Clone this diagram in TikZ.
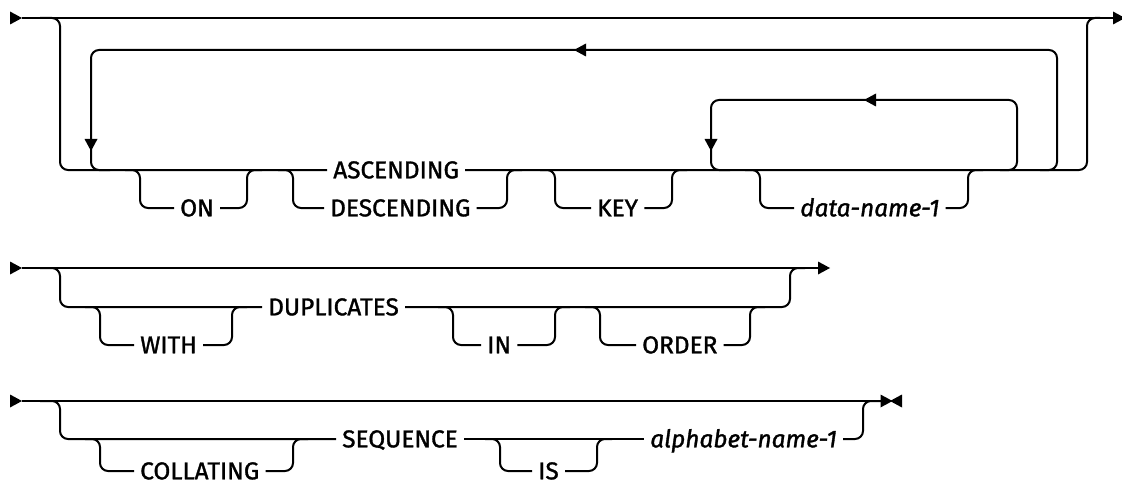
\documentclass[tikz,border=0pt]{standalone}
\usepackage{fontspec}
\setmainfont{Fira Sans}[FakeBold=1.3]
\usetikzlibrary{positioning}

\begin{document}
\begin{tikzpicture}[x=0.75pt,y=-0.75pt,
  rr/.style={line width=1.5pt,rounded corners=6pt},
  kw/.style={anchor=west,inner xsep=4.5pt,inner ysep=0pt,text height=12.5pt,text depth=0pt,font=\fontsize{18.3}{21}\selectfont},
  var/.style={kw,font=\fontsize{18.3}{21}\selectfont\itshape},
  rarr/.pic={\fill (6,0)--(-6,-6.5)--(-6,6.5)--cycle;},
  larr/.pic={\fill (-6,0)--(6,-6.5)--(6,6.5)--cycle;},
  darr/.pic={\fill (0,6)--(-6.5,-6)--(6.5,-6)--cycle;}]
  \useasboundingbox (0,0) rectangle (1122,485);
  % words
  \node[kw] (asc) at (327,170) {ASCENDING};
  \node[kw] (on) at (174,208) {ON};
  \node[kw] (desc) at (324,208) {DESCENDING};
  \node[kw] (key) at (591,208) {KEY};
  \node[var] (dn) at (794,208) {data-name-1};
  \node[kw] (dup) at (262,307) {DUPLICATES};
  \node[kw] (with) at (134,345) {WITH};
  \node[kw] (kin) at (481,345) {IN};
  \node[kw] (ord) at (636,345) {ORDER};
  \node[kw] (seq) at (336,439) {SEQUENCE};
  \node[kw] (col) at (134,471) {COLLATING};
  \node[kw] (is) at (532,471) {IS};
  \node[var] (alph) at (644,439) {alphabet-name-1};
  % ends of the three lines
  \coordinate (e1) at (1119,18);
  \coordinate (e2) at (824,268);
  \coordinate (e3) at (882,401);
  \foreach \y in {18,268,401} {\pic at (16,\y) {rarr};}
  \draw[rr] (22,18) -- (e1);
  \draw[rr] (22,268) -- (e2);
  \draw[rr] (22,401) -- (e3);
  \pic at (e1) {rarr};
  \pic at (e2) {rarr};
  \pic at (886.5,401) {rarr};
  \pic at (896,401) {larr};
  % lower tracks
  \draw[rr] (40,18) -- (60,18) -- (60,170) -- (asc.west);
  \draw[rr] (asc.east) -- (1087,170) -- (1087,18) -- (1100,18);
  \draw[rr] (40,268) -- (60,268) -- (60,307) -- (dup.west);
  \draw[rr] (dup.east) -- (790,307) -- (790,268) -- (805,268);
  \draw[rr] (40,401) -- (60,401) -- (60,439) -- (seq.west);
  \draw[rr] (seq.east) -- (alph.west);
  \draw[rr] (alph.east) -- (863,439) -- (863,401) -- (e3);
  % repeat loops
  \draw[rr] (1040,170) -- (1057,170) -- (1057,50) -- (91,50) -- (91,170) -- (110,170);
  \draw[rr] (1000,170) -- (1017,170) -- (1017,100) -- (711,100) -- (711,170) -- (730,170);
  \pic at (580,50) {larr};
  \pic at (870,100) {larr};
  \pic at (91,145) {darr};
  \pic at (711,145) {darr};
  % optional words
  \foreach \a/\b/\n/\y in {140/247/on/170,293/507/desc/170,555/672/key/170,760/968/dn/170,
      100/232/with/307,453/555/kin/307,600/750/ord/307,100/293/col/439,500/597/is/439} {
    \draw[rr] (\a-15,\y) -- (\a,\y) |- (\n.west);
    \draw[rr] (\n.east) -| (\b,\y) -- (\b+15,\y);
  }
\end{tikzpicture}
\end{document}
